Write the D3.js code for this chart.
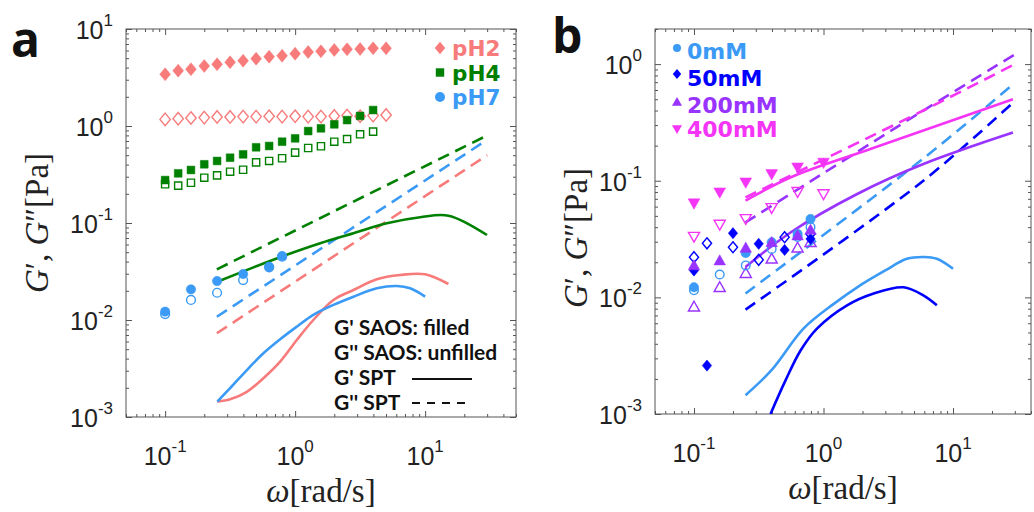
<!DOCTYPE html>
<html>
<head>
<meta charset="utf-8">
<script src="https://cdn.jsdelivr.net/npm/d3@7"></script>
<style>
  body { margin: 0; background: #fff; }
</style>
</head>
<body>
<div id="chart"></div>
<script>
// ---------- panel a : SAOS markers ----------
const freqA = [0.1, 0.126, 0.158, 0.2, 0.251, 0.316, 0.398, 0.501, 0.631, 0.794, 1, 1.26, 1.58, 2, 2.51, 3.16, 3.98, 5.01]
const pH2Gp  = [3.41, 3.72, 3.85, 4.16, 4.33, 4.54, 4.71, 4.94, 5.18, 5.30, 5.56, 5.79, 5.89, 6.08, 6.18, 6.22, 6.32, 6.32]
const pH2Gpp = [1.17, 1.19, 1.21, 1.22, 1.24, 1.24, 1.25, 1.25, 1.26, 1.25, 1.26, 1.25, 1.25, 1.27, 1.28, 1.26, 1.28, 1.30]
const pH4Gp  = [0.277, 0.325, 0.352, 0.403, 0.436, 0.471, 0.510, 0.603, 0.622, 0.689, 0.746, 0.887, 0.946, 1.04, 1.15, 1.27, 1.46]
const pH4Gpp = [0.251, 0.243, 0.260, 0.293, 0.310, 0.338, 0.354, 0.422, 0.436, 0.465, 0.531, 0.593, 0.618, 0.689, 0.734, 0.821, 0.874]
const freqPH7 = [0.1, 0.158, 0.251, 0.398, 0.631, 0.794]
const pH7Gp  = [0.0122, 0.0207, 0.0252, 0.0298, 0.0354, 0.0457]
const pH7Gpp = [0.0115, 0.0161, 0.0191, 0.0258, 0.0349, 0.0449]

// ---------- panel a : SPT curves ----------
const pH2SptW  = [0.252, 0.316, 0.425, 0.570, 0.767, 1.03, 1.38, 1.97, 2.81, 4.25, 6.43, 10, 15.1]
const pH2SptGp = [0.00144, 0.00152, 0.00182, 0.00251, 0.00372, 0.00622, 0.0100, 0.0161, 0.0204, 0.0263, 0.0291, 0.0296, 0.0235]
const pH7SptW  = [0.252, 0.316, 0.425, 0.570, 0.767, 1.03, 1.38, 1.97, 2.81, 4.25, 6.05, 7.67, 10]
const pH7SptGp = [0.00144, 0.00198, 0.00305, 0.00454, 0.00633, 0.00853, 0.0113, 0.0143, 0.0174, 0.0212, 0.0224, 0.0212, 0.0174]
const pH4SptW  = [0.252, 0.478, 0.813, 1.56, 2.81, 5.07, 9.16, 15.1, 29.9]
const pH4SptGp = [0.0248, 0.0349, 0.0457, 0.0618, 0.0783, 0.0993, 0.1146, 0.119, 0.0752]
const sptDashW   = [0.25, 30]
const pH2SptGpp  = [0.0073, 0.50]
const pH4SptGpp  = [0.0333, 0.80]
const pH7SptGpp  = [0.0108, 0.72]

// ---------- panel b : SAOS markers ----------
const w0mM    = [0.1, 0.158, 0.251, 0.398, 0.631, 0.794]
const gp0mM   = [0.0122, null, 0.024, 0.0297, 0.035, 0.047]
const gpp0mM  = [0.0115, 0.0157, 0.0188, 0.026, 0.033, 0.040]
const w50mM   = [0.1, 0.126, 0.2, 0.316, 0.501, 0.794]
const gp50mM  = [0.017, 0.0026, 0.0355, 0.0288, 0.0255, 0.0317]
const gpp50mM = [0.0221, 0.0291, 0.0269, 0.021, 0.0328, 0.035]
const w200mM  = [0.1, 0.158, 0.251, 0.398, 0.631, 0.794]
const gp200mM = [0.0188, 0.0207, 0.0266, 0.0297, 0.0339, 0.0379]
const gpp200mM = [0.0083, 0.0122, 0.0161, 0.0214, 0.0266, 0.0297]
const w400mM  = [0.1, 0.158, 0.251, 0.398, 0.631, 1.0]
const gp400mM = [0.064, 0.0794, 0.0967, 0.114, 0.130, 0.143]
const gpp400mM = [0.0332, 0.0421, 0.0471, 0.0585, 0.0805, 0.0769]

// ---------- panel b : SPT curves ----------
const spt0W    = [0.25, 0.4, 0.7, 1.2, 1.82, 3, 4.4, 6, 7.5, 10]
const spt0Gp   = [0.00145, 0.0024, 0.0054, 0.0088, 0.0122, 0.017, 0.0214, 0.0222, 0.0214, 0.0176]
const spt50W   = [0.39, 0.51, 0.665, 0.89, 1.52, 2.44, 4.15, 5.9, 7.5]
const spt50Gp  = [0.001, 0.00195, 0.0035, 0.0054, 0.00855, 0.0108, 0.0122, 0.0104, 0.00855]
const spt200W  = [0.25, 0.56, 1.82, 5.9, 29]
const spt200Gp = [0.0182, 0.0362, 0.077, 0.139, 0.259]
const spt400W  = [0.25, 0.56, 2.3, 29]
const spt400Gp = [0.0675, 0.107, 0.187, 0.50]
const sptDashWb  = [0.25, 5.9, 30]
const spt0Gpp    = [0.0108, 0.155, 0.69]
const spt50Gpp   = [0.00785, 0.1, 0.483]
const spt200Gpp  = [0.044, 0.40, 1.21]
const spt400Gpp  = [0.072, 0.40, 1.0]

const xTickLabels = [0.1, 1, 10]

// colours
const pink = "#f77b7b", green = "#008000", lblue = "#3a9af5"
const blue = "#0000ff", purple = "#9933ff", magenta = "#f535f5"
const axisColor = "#555"

const svg = d3.select("#chart")
  .append("svg")
    .attr("width", 1034)
    .attr("height", 512)
    .style("background", "#fff")

// marker shapes
function shape(type, s) {
  if (type === "circle") return d3.symbol(d3.symbolCircle, Math.PI * s * s)()
  if (type === "square") return `M${-s},${-s}H${s}V${s}H${-s}Z`
  if (type === "diamond") return `M0,${-s * 1.2}L${s},0L0,${s * 1.2}L${-s},0Z`
  if (type === "up") return `M0,${-s * 1.05}L${s * 1.05},${s * 0.8}L${-s * 1.05},${s * 0.8}Z`
  if (type === "down") return `M0,${s * 1.05}L${s * 1.05},${-s * 0.8}L${-s * 1.05},${-s * 0.8}Z`
}

function logTicks(lo, hi) {
  const out = []
  for (let e = Math.floor(Math.log10(lo)); e <= Math.ceil(Math.log10(hi)); e++)
    for (let k = 1; k < 10; k++) {
      const v = k * Math.pow(10, e)
      if (v >= lo * 0.999 && v <= hi * 1.001) out.push(v)
    }
  return out
}
const isMajor = v => Math.abs(Math.log10(v) - Math.round(Math.log10(v))) < 1e-6

function tickSet(g, axisFn, scale, values, size, transform) {
  g.append("g")
    .attr("transform", transform)
    .call(axisFn(scale).tickValues(values).tickSize(size).tickFormat(""))
    .call(a => a.select(".domain").remove())
    .call(a => a.selectAll("text").remove())
    .selectAll("line").attr("stroke", axisColor).attr("stroke-width", 1)
}

function powLabel(g, x, y, anchor, exp) {
  const t = g.append("text")
    .attr("x", x).attr("y", y)
    .attr("text-anchor", anchor)
    .attr("font-family", "Liberation Sans, Arial, sans-serif")
    .attr("font-size", 25)
    .attr("fill", "#222")
  t.append("tspan").text("10")
  t.append("tspan").attr("dy", -13).attr("font-size", 17).text(exp)
}

function drawPanel(p) {
  const x = d3.scaleLog().domain(p.xDomain).range([p.left, p.right])
  const y = d3.scaleLog().domain(p.yDomain).range([p.bottom, p.top])
  const g = svg.append("g")

  const clipId = "clip-" + p.id
  g.append("clipPath").attr("id", clipId)
    .append("rect")
      .attr("x", p.left).attr("y", p.top)
      .attr("width", p.right - p.left).attr("height", p.bottom - p.top)

  // ticks, inward on all four sides
  const xt = logTicks(...p.xDomain), yt = logTicks(...p.yDomain)
  const xMaj = xt.filter(isMajor), xMin = xt.filter(v => !isMajor(v))
  const yMaj = yt.filter(isMajor), yMin = yt.filter(v => !isMajor(v))
  tickSet(g, d3.axisBottom, x, xMaj, -6, `translate(0,${p.bottom})`)
  tickSet(g, d3.axisBottom, x, xMin, -3, `translate(0,${p.bottom})`)
  tickSet(g, d3.axisTop, x, xMaj, -6, `translate(0,${p.top})`)
  tickSet(g, d3.axisTop, x, xMin, -3, `translate(0,${p.top})`)
  tickSet(g, d3.axisLeft, y, yMaj, -6, `translate(${p.left},0)`)
  tickSet(g, d3.axisLeft, y, yMin, -3, `translate(${p.left},0)`)
  tickSet(g, d3.axisRight, y, yMaj, -6, `translate(${p.right},0)`)
  tickSet(g, d3.axisRight, y, yMin, -3, `translate(${p.right},0)`)

  g.append("rect")
    .attr("x", p.left).attr("y", p.top)
    .attr("width", p.right - p.left).attr("height", p.bottom - p.top)
    .attr("fill", "none").attr("stroke", axisColor).attr("stroke-width", 1)

  // tick labels
  xTickLabels.forEach(v => powLabel(g, x(v), p.bottom + 48, "middle", String(Math.round(Math.log10(v)))))
  yMaj.forEach(v => powLabel(g, p.left - 13, y(v) + 10, "end", String(Math.round(Math.log10(v)))))

  // axis titles
  const xl = g.append("text")
    .attr("x", (p.left + p.right) / 2).attr("y", p.bottom + 85)
    .attr("text-anchor", "middle")
    .attr("font-family", "Liberation Serif, Times New Roman, serif")
    .attr("font-size", 33).attr("fill", "#222")
  xl.append("tspan").attr("font-style", "italic").text("ω")
  xl.append("tspan").text("[rad/s]")

  const yl = g.append("text")
    .attr("transform", `translate(${p.yTitleX},${p.yTitleY}) rotate(-90)`)
    .attr("text-anchor", "middle")
    .attr("font-family", "Liberation Serif, Times New Roman, serif")
    .attr("font-size", 33).attr("fill", "#222")
  yl.append("tspan").attr("font-style", "italic").text("G")
  yl.append("tspan").text("′, ")
  yl.append("tspan").attr("font-style", "italic").text("G")
  yl.append("tspan").text("″[Pa]")

  // panel letter
  g.append("text")
    .attr("x", p.letterX).attr("y", p.letterY)
    .attr("font-family", "Open Sans, sans-serif").attr("font-weight", 700)
    .attr("font-size", 48).attr("fill", "#111")
    .text(p.letter)

  const plot = g.append("g").attr("clip-path", `url(#${clipId})`)
  const line = d3.line().x(d => x(d[0])).y(d => y(d[1])).curve(d3.curveCatmullRom.alpha(0.5))

  p.lines.forEach(L => {
    plot.append("path")
      .datum(d3.zip(L.w, L.g))
      .attr("d", line)
      .attr("fill", "none")
      .attr("stroke", L.color)
      .attr("stroke-width", 2.6)
      .attr("stroke-dasharray", L.dash ? "12,7" : null)
  })

  p.markers.forEach(M => {
    const pts = d3.zip(M.w, M.g).filter(d => d[1] != null)
    plot.selectAll(null)
      .data(pts)
      .join("path")
        .attr("transform", d => `translate(${x(d[0])},${y(d[1])})`)
        .attr("d", shape(M.shape, M.size))
        .attr("fill", M.filled ? M.color : "#fff")
        .attr("fill-opacity", M.filled ? 1 : 0)
        .attr("stroke", M.color)
        .attr("stroke-width", M.filled ? 0.5 : 1.4)
  })
  return {x, y, g}
}

// ---------- panel a ----------
const pa = drawPanel({
  id: "a", letter: "a", letterX: 11, letterY: 57,
  left: 126, right: 516, top: 29, bottom: 417,
  xDomain: [0.05, 50], yDomain: [1e-3, 10],
  yTitleX: 48, yTitleY: 223,
  lines: [
    {w: sptDashW, g: pH4SptGpp, color: green, dash: true},
    {w: sptDashW, g: pH7SptGpp, color: lblue, dash: true},
    {w: sptDashW, g: pH2SptGpp, color: pink, dash: true},
    {w: pH4SptW, g: pH4SptGp, color: green},
    {w: pH2SptW, g: pH2SptGp, color: pink},
    {w: pH7SptW, g: pH7SptGp, color: lblue}
  ],
  markers: [
    {w: freqA, g: pH2Gp, color: pink, shape: "diamond", size: 5.4, filled: true},
    {w: freqA, g: pH2Gpp, color: pink, shape: "diamond", size: 5.2, filled: false},
    {w: freqA, g: pH4Gp, color: green, shape: "square", size: 3.9, filled: true},
    {w: freqA, g: pH4Gpp, color: green, shape: "square", size: 3.6, filled: false},
    {w: freqPH7, g: pH7Gpp, color: lblue, shape: "circle", size: 4.4, filled: false},
    {w: freqPH7, g: pH7Gp, color: lblue, shape: "circle", size: 4.7, filled: true}
  ]
})

// legend a (top right)
const legA = [
  {label: "pH2", color: pink, shape: "diamond", size: 5.2},
  {label: "pH4", color: green, shape: "square", size: 4.2},
  {label: "pH7", color: lblue, shape: "circle", size: 5}
]
legA.forEach((d, i) => {
  const yy = 48 + i * 24.5
  svg.append("path").attr("transform", `translate(440,${yy})`).attr("d", shape(d.shape, d.size)).attr("fill", d.color)
  svg.append("text").attr("x", 452).attr("y", yy + 8)
    .attr("font-family", "DejaVu Sans, sans-serif").attr("font-weight", 700)
    .attr("font-size", 21.5).attr("fill", d.color).text(d.label)
})

// legend a (line/marker key)
const keyA = ["G' SAOS: filled", "G'' SAOS: unfilled", "G' SPT", "G'' SPT"]
keyA.forEach((t, i) => {
  svg.append("text").attr("x", 334).attr("y", 335 + i * 25)
    .attr("font-family", "Lato, sans-serif").attr("font-weight", 700)
    .attr("font-size", 21).attr("fill", "#111").text(t)
})
svg.append("line").attr("x1", 412).attr("x2", 472).attr("y1", 379).attr("y2", 379)
  .attr("stroke", "#111").attr("stroke-width", 2)
svg.append("line").attr("x1", 412).attr("x2", 472).attr("y1", 403).attr("y2", 403)
  .attr("stroke", "#111").attr("stroke-width", 2).attr("stroke-dasharray", "8,7")

// ---------- panel b ----------
const pb = drawPanel({
  id: "b", letter: "b", letterX: 552, letterY: 53,
  left: 655, right: 1031, top: 29, bottom: 414,
  xDomain: [0.05, 40], yDomain: [1e-3, 2],
  yTitleX: 587, yTitleY: 238,
  lines: [
    {w: sptDashWb, g: spt0Gpp, color: lblue, dash: true},
    {w: sptDashWb, g: spt50Gpp, color: blue, dash: true},
    {w: sptDashWb, g: spt200Gpp, color: purple, dash: true},
    {w: sptDashWb, g: spt400Gpp, color: magenta, dash: true},
    {w: spt0W, g: spt0Gp, color: lblue},
    {w: spt50W, g: spt50Gp, color: blue},
    {w: spt200W, g: spt200Gp, color: purple},
    {w: spt400W, g: spt400Gp, color: magenta}
  ],
  markers: [
    {w: w400mM, g: gp400mM, color: magenta, shape: "down", size: 5.6, filled: true},
    {w: w400mM, g: gpp400mM, color: magenta, shape: "down", size: 5.3, filled: false},
    {w: w50mM, g: gpp50mM, color: blue, shape: "diamond", size: 4.6, filled: false},
    {w: w200mM, g: gpp200mM, color: purple, shape: "up", size: 5.3, filled: false},
    {w: w0mM, g: gpp0mM, color: lblue, shape: "circle", size: 4.3, filled: false},
    {w: w0mM, g: gp0mM, color: lblue, shape: "circle", size: 4.7, filled: true},
    {w: w50mM, g: gp50mM, color: blue, shape: "diamond", size: 4.7, filled: true},
    {w: w200mM, g: gp200mM, color: purple, shape: "up", size: 5.5, filled: true}
  ]
})

// legend b
const legB = [
  {label: "0mM", color: lblue, shape: "circle", size: 4, y: 48},
  {label: "50mM", color: blue, shape: "diamond", size: 4.2, y: 74},
  {label: "200mM", color: purple, shape: "up", size: 4.8, y: 102},
  {label: "400mM", color: magenta, shape: "down", size: 4.8, y: 129}
]
const legBase = [59, 86, 113, 137]
legB.forEach((d, i) => {
  svg.append("path").attr("transform", `translate(677,${d.y})`).attr("d", shape(d.shape, d.size)).attr("fill", d.color)
  svg.append("text").attr("x", 687).attr("y", legBase[i])
    .attr("font-family", "DejaVu Sans, sans-serif").attr("font-weight", 700)
    .attr("font-size", 22).attr("fill", d.color).text(d.label)
})
</script>
</body>
</html>
